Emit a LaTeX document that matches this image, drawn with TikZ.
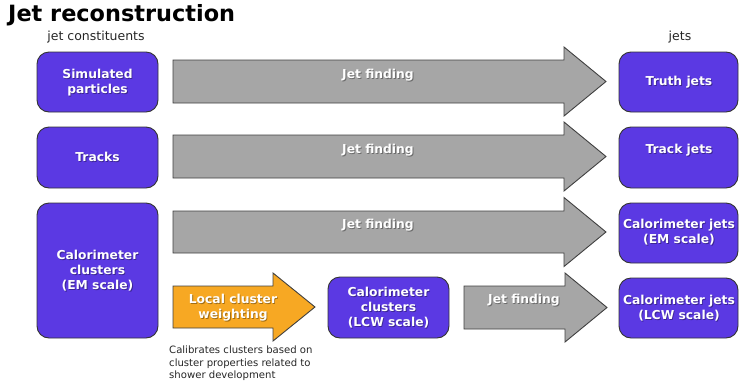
\documentclass[tikz,border=0pt]{standalone}
\usepackage{fontspec}
\setmainfont{DejaVu Sans}
\definecolor{boxpurple}{RGB}{91,57,227}
\definecolor{arrgray}{RGB}{166,166,166}
\definecolor{arrorange}{RGB}{247,168,35}
\tikzset{
  pbox/.style={draw=black!80, fill=boxpurple, rounded corners=12pt, line width=0.9pt, inner sep=0pt},
  blockarrow/.style={draw=black!75, line width=0.9pt, fill=arrgray, line join=miter},
  orangearrow/.style={blockarrow, fill=arrorange},
  wlabel/.style={text=white, font=\bfseries\fontsize{12.3}{15}\selectfont, align=center, inner sep=0pt},
  slabel/.style={wlabel, text=black, opacity=0.35, xshift=0.9pt, yshift=-0.9pt},
  smalltext/.style={text=black!85, font=\fontsize{12.5}{15}\selectfont, inner sep=0pt},
}
% shadowed white label: name, position, text
\newcommand{\shlabel}[3]{%
  \node[slabel] at #2 {#3};
  \node[wlabel] (#1) at #2 {#3};}
% block arrow: start x, neck x, tip x, center y, body half height, head half height
\newcommand{\blockarr}[7]{%
  \draw[#1] (#2,#5-#6) -- (#3,#5-#6) -- (#3,#5-#7) -- (#4,#5) -- (#3,#5+#7) -- (#3,#5+#6) -- (#2,#5+#6) -- cycle;}
\begin{document}
\begin{tikzpicture}[x=1pt,y=-1pt]
\useasboundingbox (0,0) rectangle (740,389);
% title
\node[anchor=base west, inner sep=0pt, font=\bfseries\fontsize{22.4}{26}\selectfont] (title) at (8,21.5) {Jet reconstruction};
\node[smalltext] (constit) at (96,37) {jet constituents};
\node[smalltext] (jets) at (680,37) {jets};
% left boxes
\node[pbox, minimum width=121pt, minimum height=60pt] (sim) at (97.5,82) {};
\node[pbox, minimum width=121pt, minimum height=61pt] (trk) at (97.5,157.5) {};
\node[pbox, minimum width=121pt, minimum height=135pt] (calem) at (97.5,270.5) {};
% right boxes
\node[pbox, minimum width=119pt, minimum height=60pt] (truth) at (678.5,82) {};
\node[pbox, minimum width=119pt, minimum height=61pt] (trkjet) at (678.5,157.5) {};
\node[pbox, minimum width=119pt, minimum height=60pt] (caljem) at (678.5,233) {};
\node[pbox, minimum width=119pt, minimum height=60pt] (caljlcw) at (678.5,308) {};
% middle box
\node[pbox, minimum width=121pt, minimum height=61pt] (callcw) at (388.5,307.5) {};
% block arrows
\blockarr{blockarrow}{173}{564}{606}{81.5}{21.5}{34.5}
\blockarr{blockarrow}{173}{564}{606}{156.5}{21.5}{34.5}
\blockarr{blockarrow}{173}{564}{606}{232}{21}{34.5}
\blockarr{blockarrow}{464}{565}{607}{307.5}{21.5}{34.5}
\blockarr{orangearrow}{173}{273}{315}{307}{21}{34}
% labels
\shlabel{simt}{(97.5,82.5)}{Simulated\\particles}
\shlabel{trkt}{(97.5,157)}{Tracks}
\shlabel{calemt}{(97.5,270.5)}{Calorimeter\\clusters\\(EM scale)}
\shlabel{trutht}{(679,82)}{Truth jets}
\shlabel{trkjett}{(679,150)}{Track jets}
\shlabel{caljemt}{(679,232.5)}{Calorimeter jets\\(EM scale)}
\shlabel{caljlcwt}{(679,308)}{Calorimeter jets\\(LCW scale)}
\shlabel{callcwt}{(388.5,308)}{Calorimeter\\clusters\\(LCW scale)}
\shlabel{jf1}{(378,75)}{Jet finding}
\shlabel{jf2}{(378,150)}{Jet finding}
\shlabel{jf3}{(378,225)}{Jet finding}
\shlabel{jf4}{(524,300)}{Jet finding}
\shlabel{lcw}{(233,308)}{Local cluster\\weighting}
% caption
\node[anchor=north west, inner sep=0pt, align=left, text=black!85, font=\fontsize{10.1}{12.5}\selectfont] (cap) at (169,346) {Calibrates clusters based on\\cluster properties related to\\shower development};
\end{tikzpicture}
\end{document}
